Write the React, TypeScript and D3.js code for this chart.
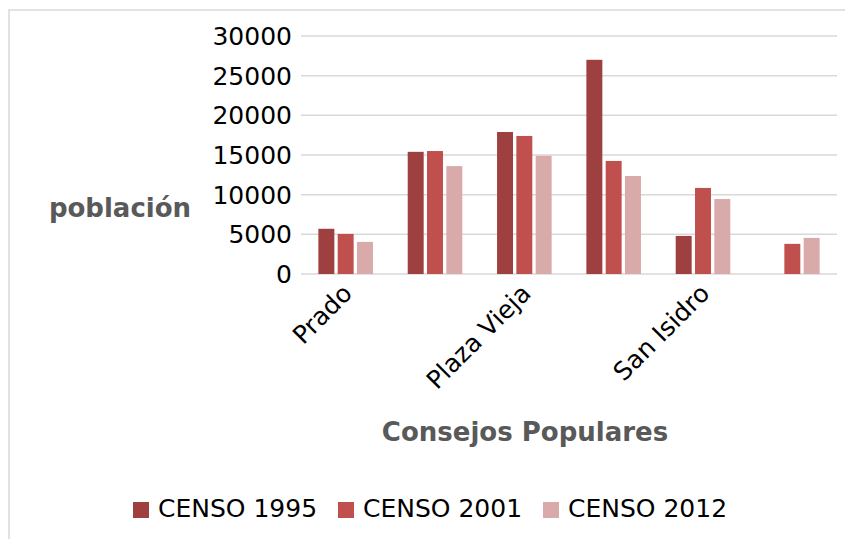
import React, { useEffect } from "react"
import * as d3 from "d3"

// consejos populares (Excel only printed every other label)
const categories = ["Prado", "Catedral", "Plaza Vieja", "Belén", "San Isidro", "Jesús María"]
const series = ["CENSO 1995", "CENSO 2001", "CENSO 2012"]
const censo1995 = [5700, 15400, 17900, 27000, 4800, null]
const censo2001 = [5050, 15500, 17400, 14250, 10850, 3800]
const censo2012 = [4050, 13600, 14900, 12350, 9450, 4550]
const yTicks = [0, 5000, 10000, 15000, 20000, 25000, 30000]

const colors = ["#9E403F", "#C0504D", "#D9AAAA"]
const font = "DejaVu Sans"

export default function App() {
    useEffect(() => {
        document.body.style.margin = "0"
    }, [])

    const values = [censo1995, censo2001, censo2012]

    const x0 = d3.scaleBand()
        .domain(categories)
        .range([301, 837])
        .paddingInner(0.389)
        .paddingOuter(0.1945)

    const x1 = d3.scaleBand()
        .domain(series)
        .range([0, x0.bandwidth()])
        .paddingInner(0.173)

    const y = d3.scaleLinear()
        .domain([0, 30000])
        .range([274, 36])

    const color = d3.scaleOrdinal<string, string>().domain(series).range(colors)

    return (
        <svg width={845} height={539} style={{ display: "block", fontFamily: font }}>
            <rect x={9} y={10} width={850} height={540} fill="white" stroke="#d9d9d9" strokeWidth={1.5} />

            {/* gridlines + y tick labels */}
            {yTicks.map(t => (
                <g key={t}>
                    <line x1={301} x2={837} y1={y(t)} y2={y(t)} stroke="#d9d9d9" strokeWidth={1.5} />
                    <text x={292} y={y(t) + 9} textAnchor="end" fontSize={25} fill="#000">{t}</text>
                </g>
            ))}

            {/* bars */}
            {categories.map((c, i) => (
                <g key={c} transform={`translate(${x0(c)},0)`}>
                    {series.map((s, j) => {
                        const v = values[j][i]
                        if (v == null) return null
                        return (
                            <rect key={s}
                                x={x1(s)}
                                y={y(v)}
                                width={x1.bandwidth()}
                                height={y(0) - y(v)}
                                fill={color(s)} />
                        )
                    })}
                </g>
            ))}

            {/* category labels, rotated */}
            {categories.map((c, i) => i % 2 === 0 && (
                <text key={c}
                    transform={`translate(${x0(c)! + x0.bandwidth() / 2 + 8},295) rotate(-45)`}
                    textAnchor="end" fontSize={25} fill="#000">{c}</text>
            ))}

            <text x={120} y={217} textAnchor="middle" fontSize={26} fontWeight="bold" fill="#595959">población</text>
            <text x={525} y={441} textAnchor="middle" fontSize={26} fontWeight="bold" fill="#595959">Consejos Populares</text>

            {/* legend */}
            {series.map((s, j) => {
                const lx = [133, 338, 543][j]
                return (
                    <g key={s}>
                        <rect x={lx} y={502} width={16} height={16} fill={color(s)} />
                        <text x={lx + 25} y={517} fontSize={25} fill="#000">{s}</text>
                    </g>
                )
            })}
        </svg>
    )
}
